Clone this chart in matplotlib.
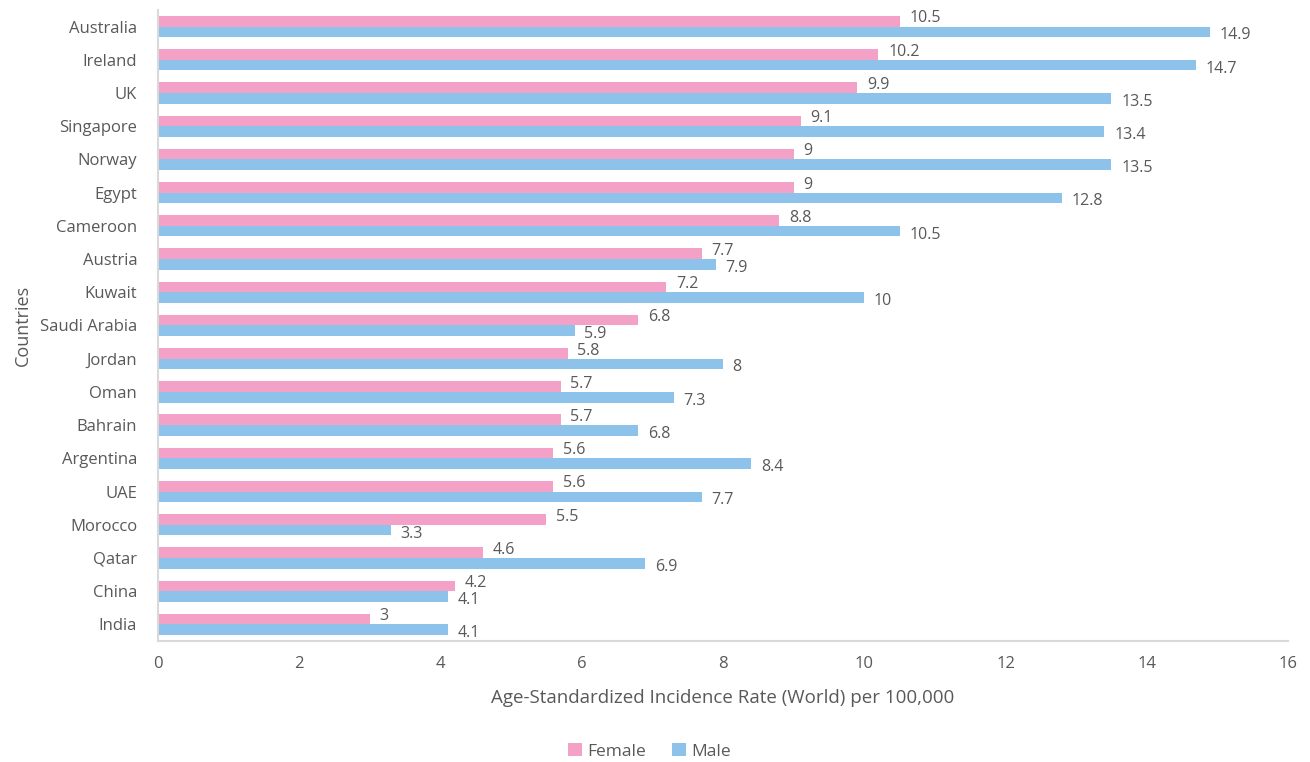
import numpy as np
import matplotlib.pyplot as plt

# ---------------- Data ---------------- #
countries = ["Australia", "Ireland", "UK", "Singapore", "Norway", "Egypt", "Cameroon",
             "Austria", "Kuwait", "Saudi Arabia", "Jordan", "Oman", "Bahrain",
             "Argentina", "UAE", "Morocco", "Qatar", "China", "India"]
female = [10.5, 10.2, 9.9, 9.1, 9, 9, 8.8, 7.7, 7.2, 6.8, 5.8, 5.7, 5.7, 5.6, 5.6, 5.5, 4.6, 4.2, 3]
male = [14.9, 14.7, 13.5, 13.4, 13.5, 12.8, 10.5, 7.9, 10, 5.9, 8, 7.3, 6.8, 8.4, 7.7, 3.3, 6.9, 4.1, 4.1]
x_ticks = [0, 2, 4, 6, 8, 10, 12, 14, 16]

# ---------------- Style ---------------- #
PINK = "#F4A1C8"
BLUE = "#8DC3EA"
TEXT = "#595959"
AXIS = "#D9D9D9"
BAR_H = 0.32

plt.rcParams["font.family"] = ["Open Sans", "DejaVu Sans"]

fig = plt.figure(figsize=(13.1, 7.62), dpi=100)
ax = fig.add_axes([0.1206, 0.1588, 0.8626, 0.8281])

y = np.arange(len(countries))
bars_f = ax.barh(y - BAR_H / 2, female, height=BAR_H, color=PINK, label="Female")
bars_m = ax.barh(y + BAR_H / 2, male, height=BAR_H, color=BLUE, label="Male")

# value labels at the end of each bar, nudged apart vertically
for yi, v in zip(y, female):
    ax.annotate(f"{v:g}", (v, yi - BAR_H / 2), xytext=(7, 2), textcoords="offset points",
                ha="left", va="center", fontsize=11.5, color=TEXT)
for yi, v in zip(y, male):
    ax.annotate(f"{v:g}", (v, yi + BAR_H / 2), xytext=(7, -2.5), textcoords="offset points",
                ha="left", va="center", fontsize=11.5, color=TEXT)

ax.set_xlim(0, 16)
ax.set_ylim(len(countries) - 0.5, -0.5)
ax.set_xticks(x_ticks)
ax.set_xticklabels([str(t) for t in x_ticks])
ax.set_yticks(y)
ax.set_yticklabels(countries)
ax.tick_params(axis="both", length=0, labelsize=12, colors=TEXT)
ax.tick_params(axis="x", pad=11)
ax.tick_params(axis="y", pad=15)

for side in ["top", "right"]:
    ax.spines[side].set_visible(False)
for side in ["left", "bottom"]:
    ax.spines[side].set_color(AXIS)
    ax.spines[side].set_linewidth(1.5)

ax.set_xlabel("Age-Standardized Incidence Rate (World) per 100,000", fontsize=13.5,
              color=TEXT, labelpad=12)
ax.set_ylabel("Countries", fontsize=13, color=TEXT, labelpad=6)

leg = fig.legend(handles=[bars_f, bars_m], labels=["Female", "Male"], loc="center",
                 bbox_to_anchor=(0.496, 0.014), ncol=2, frameon=False, fontsize=12.5,
                 handlelength=0.8, handleheight=0.8, handletextpad=0.3, columnspacing=1.5)
for t in leg.get_texts():
    t.set_color(TEXT)

fig.savefig("out.png", dpi=100)
